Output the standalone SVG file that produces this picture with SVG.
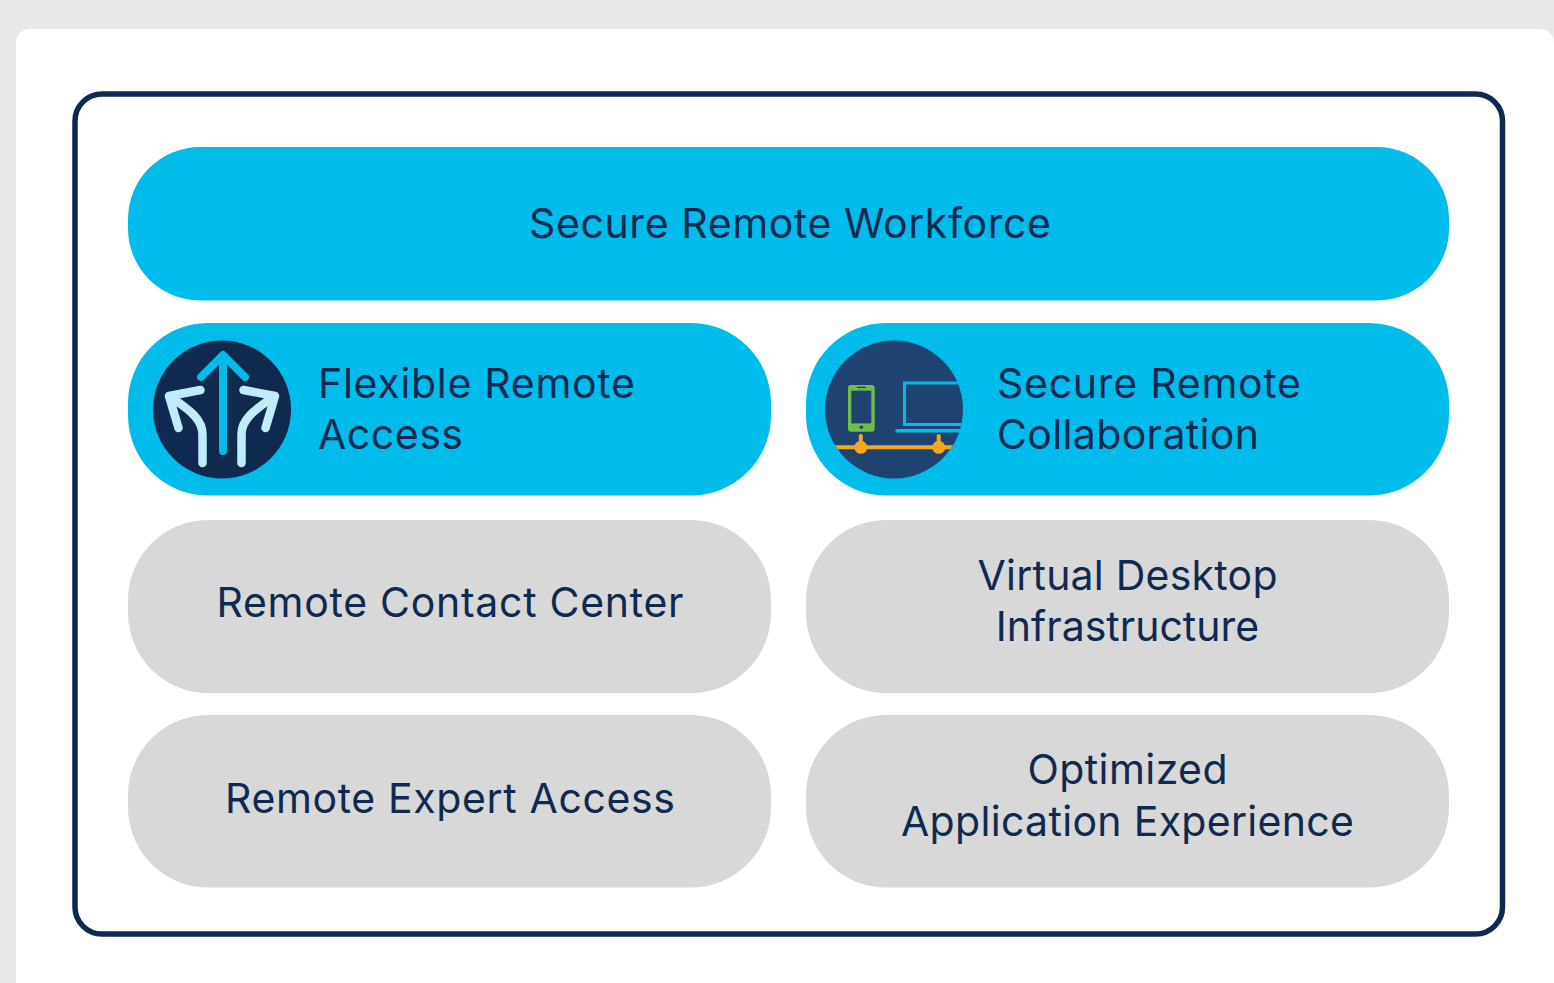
<svg xmlns="http://www.w3.org/2000/svg" width="1554" height="983" viewBox="0 0 1554 983">
<style>
.t{font-family:Inter,"Noto Sans",sans-serif;font-size:41px;fill:#10294f}
.m{text-anchor:middle}
.b{fill:#00bceb}
.g{fill:#d8d8d8}
.w{fill:none;stroke:#bfecfb;stroke-width:8.5;stroke-linecap:round;stroke-linejoin:round}
.c{fill:none;stroke:#00bceb;stroke-width:8;stroke-linecap:round;stroke-linejoin:round}
</style>
<defs><clipPath id="cp"><circle cx="894" cy="409.5" r="69"/></clipPath></defs>
<rect width="1554" height="983" fill="#e9e9e9"/>
<rect x="16" y="29" width="1538" height="990" rx="14" fill="#fff"/>
<rect id="frame" x="75" y="94" width="1427.5" height="840" rx="27" fill="#fff" stroke="#10294f" stroke-width="5.5"/>
<g id="n1"><rect class="b" x="128" y="147" width="1321" height="153.500" rx="72"/><text class="t m" x="790" y="238" textLength="522">Secure Remote Workforce</text></g>
<g id="n2"><rect class="b" x="128" y="323" width="643" height="172.500" rx="80"/>
<circle cx="222" cy="409.500" r="69" fill="#10294f"/>
<path class="c" d="M223 451V356M201 377L223 355L245 377"/>
<path class="w" d="M202.500 463V434C202.500 420 190 410 172 398M200.500 390L169 396L178.500 428"/>
<path class="w" d="M241.500 463V434C241.500 420 254 410 272 398M243.500 390L275 396L265.500 428"/>
<text class="t" x="318" y="398" textLength="317">Flexible Remote</text><text class="t" x="318" y="449" textLength="145">Access</text></g>
<g id="n3"><rect class="b" x="806" y="323" width="643" height="172.500" rx="80"/>
<circle cx="894" cy="409.500" r="69" fill="#1f4370"/>
<g clip-path="url(#cp)">
<rect x="848" y="385" width="26.700" height="46.700" rx="3" fill="#6ebe4a"/>
<rect x="851.300" y="390.700" width="20" height="32.700" fill="#1f4370"/>
<circle cx="861.300" cy="427.300" r="1.800" fill="#1f4370"/>
<rect x="857" y="386.800" width="9" height="1.200" fill="#1f4370"/>
<rect x="904.500" y="383" width="70" height="41.500" fill="none" stroke="#00bceb" stroke-width="3"/>
<path d="M897 430.700H975" stroke="#00bceb" stroke-width="3.500" stroke-linecap="round"/>
<path d="M830 447.300H960" stroke="#faa61a" stroke-width="4"/>
<path d="M860.800 436V447M938.700 436V447" stroke="#faa61a" stroke-width="4" stroke-linecap="round"/>
<circle cx="860.800" cy="447.300" r="6.500" fill="#faa61a"/><circle cx="938.700" cy="447.300" r="6.500" fill="#faa61a"/>
</g>
<text class="t" x="997" y="398" textLength="304">Secure Remote</text><text class="t" x="997" y="449" textLength="262">Collaboration</text></g>
<g id="n4"><rect class="g" x="128" y="520" width="643" height="173" rx="80"/><text class="t m" x="450" y="617" textLength="467">Remote Contact Center</text></g>
<g id="n5"><rect class="g" x="806" y="520" width="643" height="173" rx="80"/><text class="t m" x="1127.500" y="590" textLength="300">Virtual Desktop</text><text class="t m" x="1127.500" y="641">Infrastructure</text></g>
<g id="n6"><rect class="g" x="128" y="715" width="643" height="172.500" rx="80"/><text class="t m" x="450" y="813" textLength="450">Remote Expert Access</text></g>
<g id="n7"><rect class="g" x="806" y="715" width="643" height="172.500" rx="80"/><text class="t m" x="1127.500" y="784" textLength="200">Optimized</text><text class="t m" x="1127.500" y="836" textLength="453">Application Experience</text></g>
<g id="connectors"/>
</svg>
